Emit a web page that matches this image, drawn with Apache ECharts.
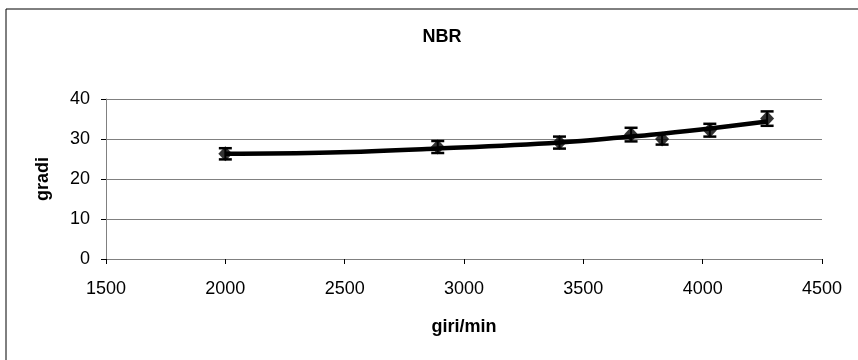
<!DOCTYPE html>
<html>
<head>
<meta charset="utf-8">
<script src="https://cdn.jsdelivr.net/npm/echarts@6/dist/echarts.min.js"></script>
<style>
html,body{margin:0;padding:0;background:#fff;}
#c{width:858px;height:360px;}
</style>
</head>
<body>
<div id="c"></div>
<script>
// Data
var rpm = [2000, 2890, 3400, 3700, 3830, 4030, 4270];
var gradi = [26.3, 28.0, 29.1, 31.1, 30.0, 32.2, 35.1];
var errs = [1.4, 1.5, 1.5, 1.7, 1.4, 1.6, 1.8];
// Trend line values
var trendX = [2000, 2440, 2890, 3400, 3700, 3830, 4030, 4270];
var trendY = [26.3, 26.6, 27.6, 29.1, 30.6, 31.3, 32.6, 34.4];
var xTicks = [1500, 2000, 2500, 3000, 3500, 4000, 4500];
var yTicks = [0, 10, 20, 30, 40];

var pts = rpm.map(function(x, i){ return [x, gradi[i]]; });
var errData = rpm.map(function(x, i){ return [x, gradi[i] - errs[i], gradi[i] + errs[i]]; });
var trend = trendX.map(function(x, i){ return [x, trendY[i]]; });

var chart = echarts.init(document.getElementById('c'), null, {renderer: 'canvas'});
var font = 'Arial, "Liberation Sans", sans-serif';
chart.setOption({
  animation: false,
  backgroundColor: '#fff',
  title: {
    text: 'NBR', left: 437, top: 23, textAlign: 'center',
    textStyle: {fontFamily: font, fontSize: 18, fontWeight: 'bold', color: '#000'}
  },
  graphic: [
    {type: 'line', shape: {x1: 6, y1: 9, x2: 858, y2: 9}, style: {stroke: '#000', lineWidth: 1}},
    {type: 'line', shape: {x1: 6, y1: 9, x2: 6, y2: 360}, style: {stroke: '#000', lineWidth: 1}}
  ],
  grid: {left: 106, right: 36, top: 99, bottom: 101},
  xAxis: {
    type: 'value', min: xTicks[0], max: xTicks[xTicks.length - 1], interval: 500,
    name: 'giri/min', nameLocation: 'middle', nameGap: 59,
    nameTextStyle: {fontFamily: font, fontSize: 18, fontWeight: 'bold', color: '#000'},
    axisLine: {show: true, lineStyle: {color: '#808080', width: 1}},
    axisTick: {show: true, inside: false, length: 5, lineStyle: {color: '#000'}},
    axisLabel: {fontFamily: font, fontSize: 18, color: '#000', margin: 21,
      formatter: function(v){ return String(v); }},
    splitLine: {show: false}
  },
  yAxis: {
    type: 'value', min: yTicks[0], max: yTicks[yTicks.length - 1], interval: 10,
    name: 'gradi', nameLocation: 'middle', nameGap: 54, nameRotate: 90,
    nameTextStyle: {fontFamily: font, fontSize: 18, fontWeight: 'bold', color: '#000'},
    axisLine: {show: true, lineStyle: {color: '#808080', width: 1}},
    axisTick: {show: true, length: 5, lineStyle: {color: '#000'}},
    axisLabel: {fontFamily: font, fontSize: 18, color: '#000', margin: 16,
      formatter: function(v){ return String(v); }},
    splitLine: {show: true, lineStyle: {color: '#808080', width: 1}}
  },
  series: [
    {
      type: 'line', data: trend, smooth: 0.4, symbol: 'none',
      lineStyle: {color: '#000', width: 4.5}, z: 3
    },
    {
      type: 'custom', data: errData, z: 4,
      renderItem: function(params, api){
        var x = api.value(0);
        var lo = api.coord([x, api.value(1)]);
        var hi = api.coord([x, api.value(2)]);
        var w = 6.5;
        return {type: 'group', children: [
          {type: 'line', shape: {x1: lo[0], y1: lo[1], x2: hi[0], y2: hi[1]}, style: {stroke: '#000', lineWidth: 2}},
          {type: 'line', shape: {x1: lo[0]-w, y1: lo[1], x2: lo[0]+w, y2: lo[1]}, style: {stroke: '#000', lineWidth: 2.5}},
          {type: 'line', shape: {x1: hi[0]-w, y1: hi[1], x2: hi[0]+w, y2: hi[1]}, style: {stroke: '#000', lineWidth: 2.5}}
        ]};
      }
    },
    {
      type: 'scatter', data: pts, symbol: 'diamond', symbolSize: [14, 15],
      itemStyle: {color: '#000'}, z: 5
    }
  ]
});
</script>
</body>
</html>
